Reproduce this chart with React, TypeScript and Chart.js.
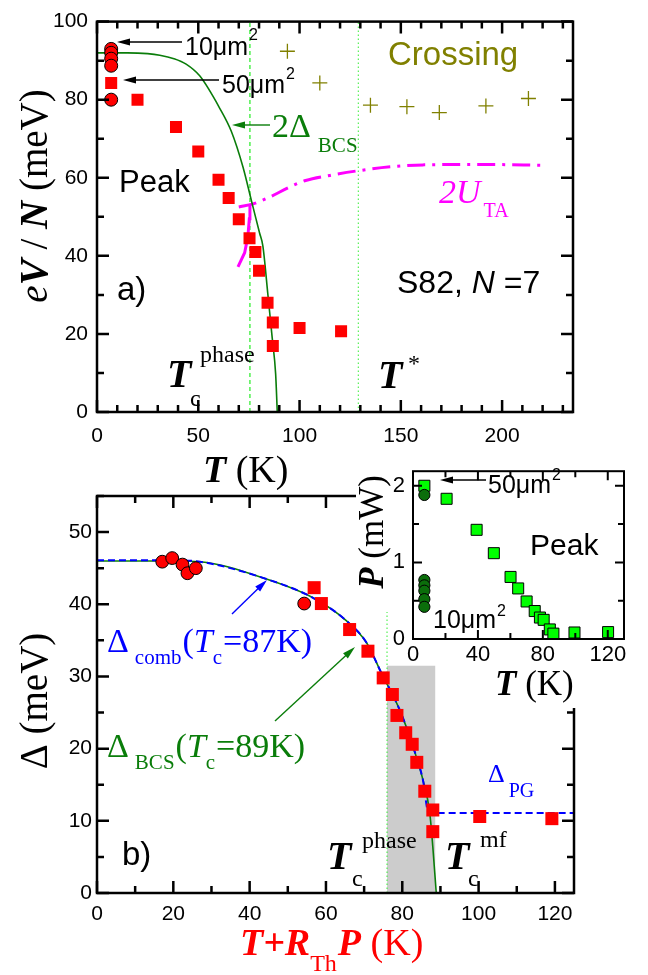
import React, { useEffect, useRef } from "react";
import { Chart, registerables } from "chart.js";
Chart.register(...registerables);

const SANS = '"Liberation Sans", Arial, Helvetica, sans-serif';
const SERIF = '"Liberation Serif", "Times New Roman", Times, serif';

// ---------- Panel a ----------
const aXTicks = [0, 50, 100, 150, 200];
const aYTicks = [0, 20, 40, 60, 80, 100];
const aCircleT = [7, 7, 7, 7, 7];
const aCircleV = [93, 92, 90.5, 88.7, 80];
const aSquareT = [7, 20, 39, 50, 60, 65, 70, 75.3, 78.2, 80, 84.2, 86.8, 86.8, 100, 120.5];
const aSquareV = [84.3, 80, 73, 66.7, 59.5, 54.8, 49.4, 44.5, 41, 36.2, 28, 22.9, 16.9, 21.5, 20.7];
const aCrossT = [94, 110, 135, 153, 169, 192, 213];
const aCrossV = [92.4, 84.3, 78.6, 78.2, 76.7, 78.4, 80.3];
const aBcsT = [0, 15, 25, 31, 38, 44, 50.7, 60.6, 66.3, 72.1, 76.2, 80.3, 81.9, 84.4, 86.5, 88.2, 89];
const aBcsV = [92, 92, 91.8, 91.4, 90.5, 89.1, 86.1, 77.8, 71.9, 62.7, 54.2, 45.8, 42.5, 29.9, 19, 9.7, 0];
const aUtaT = [70, 77, 85, 95, 103, 115, 129, 145, 161, 190, 221];
const aUtaV = [52.5, 53.3, 55, 57.6, 59.3, 60.6, 61.8, 62.8, 63.3, 63.4, 63.2];
const aUtaLowT = [69.6, 72.9, 74.5, 75.2, 75.5];
const aUtaLowV = [37.2, 40.8, 45, 49.5, 53];
const aPhaseT = [75.5, 75.5];
const aStarT = [129, 129];
const aVertV = [0, 100];

// ---------- Panel b ----------
const bXTicks = [0, 20, 40, 60, 80, 100, 120];
const bYTicks = [0, 10, 20, 30, 40, 50];
const bCircleX = [17.1, 19.7, 22.4, 23.7, 25.9, 54.3];
const bCircleY = [45.9, 46.4, 45.5, 44.3, 45, 40.1];
const bSquareX = [56.9, 58.8, 66.2, 71, 75, 77.4, 78.6, 80.9, 82.6, 83.8, 85.9, 88, 88, 100.3, 119.2];
const bSquareY = [42.3, 40.1, 36.5, 33.5, 29.8, 27.5, 24.6, 22.2, 20.6, 18.1, 14.1, 11.5, 8.5, 10.6, 10.3];
const bBcsX = [0, 20, 27, 44.4, 56.6, 65.4, 70.6, 74.5, 79.3, 82.8, 85.4, 87.2, 88, 88.9];
const bBcsY = [46, 46, 45.9, 43.5, 40.9, 37.7, 34.7, 30.5, 25.4, 20.3, 15.7, 11.1, 6.4, 0];
const bCombX = [0, 20, 27, 44.4, 56.6, 65.4, 70.6, 74.5, 79.3, 82.8, 85.4, 86.9, 125];
const bCombY = [46.1, 46.1, 45.9, 43.5, 40.9, 37.7, 34.7, 30.5, 25.4, 20.3, 15.7, 11.1, 11.1];
const bShadeX = [76, 88.7];
const bShadeTop = [31.5, 31.5];
const bPhaseX = [76, 76];
const bVertY = [0, 55];

// ---------- Inset ----------
const iXTicks = [0, 40, 80, 120];
const iYTicks = [0, 1, 2];
const iCircleT = [7, 7, 7, 7, 7, 7];
const iCircleP = [1.88, 0.77, 0.7, 0.63, 0.52, 0.42];
const iSquareT = [7, 20.7, 39.2, 49.8, 60.1, 64.8, 70, 75, 78.2, 80.5, 84.3, 86.5, 99.5, 120.2];
const iSquareP = [2.0, 1.83, 1.425, 1.12, 0.81, 0.66, 0.49, 0.365, 0.28, 0.25, 0.125, 0.07, 0.085, 0.09];

const pts = (xs: number[], ys: number[]) => xs.map((x, i) => ({ x, y: ys[i] }));

type Seg = { t: string; f: string; dy?: number; dx?: number; c?: string };
const sans = (s: number) => `${s}px ${SANS}`;
const sansI = (s: number) => `italic ${s}px ${SANS}`;
const ser = (s: number) => `${s}px ${SERIF}`;
const serI = (s: number) => `italic ${s}px ${SERIF}`;
const serBI = (s: number) => `italic bold ${s}px ${SERIF}`;

function rich(ctx: CanvasRenderingContext2D, x: number, y: number, segs: Seg[], color: string) {
  let cx = x;
  ctx.textBaseline = "alphabetic";
  ctx.textAlign = "left";
  for (const s of segs) {
    ctx.font = s.f;
    ctx.fillStyle = s.c ?? color;
    cx += s.dx ?? 0;
    ctx.fillText(s.t, cx, y + (s.dy ?? 0));
    cx += ctx.measureText(s.t).width;
  }
}
function richWidth(ctx: CanvasRenderingContext2D, segs: Seg[]) {
  let w = 0;
  for (const s of segs) {
    ctx.font = s.f;
    w += (s.dx ?? 0) + ctx.measureText(s.t).width;
  }
  return w;
}
function richRot(ctx: CanvasRenderingContext2D, bx: number, cy: number, segs: Seg[], color: string) {
  ctx.save();
  ctx.translate(bx, cy);
  ctx.rotate(-Math.PI / 2);
  const w = richWidth(ctx, segs);
  rich(ctx, -w / 2, 0, segs, color);
  ctx.restore();
}
function arrow(ctx: CanvasRenderingContext2D, x1: number, y1: number, x2: number, y2: number, color: string, lw = 1.4, hl = 13, hw = 3.5) {
  const a = Math.atan2(y2 - y1, x2 - x1);
  const c = Math.cos(a), s = Math.sin(a);
  ctx.save();
  ctx.strokeStyle = color;
  ctx.fillStyle = color;
  ctx.lineWidth = lw;
  ctx.beginPath();
  ctx.moveTo(x1, y1);
  ctx.lineTo(x2 - c * hl * 0.7, y2 - s * hl * 0.7);
  ctx.stroke();
  ctx.beginPath();
  ctx.moveTo(x2, y2);
  ctx.lineTo(x2 - c * hl - s * hw, y2 - s * hl + c * hw);
  ctx.lineTo(x2 - c * hl + s * hw, y2 - s * hl - c * hw);
  ctx.closePath();
  ctx.fill();
  ctx.restore();
}

function frame(chart: any, xMaj: number, xMin: number, yMaj: number, yMin: number, lMaj: number, lMin: number, lw: number) {
  const { ctx, chartArea: a } = chart;
  const sx = chart.scales.x, sy = chart.scales.y;
  ctx.save();
  ctx.strokeStyle = "#000";
  ctx.lineWidth = lw;
  ctx.beginPath();
  const isMaj = (v: number, m: number) => Math.abs(v / m - Math.round(v / m)) < 1e-6;
  for (let i = Math.ceil(sx.min / xMin - 1e-9); i <= Math.floor(sx.max / xMin + 1e-9); i++) {
    const v = i * xMin;
    const p = sx.getPixelForValue(v);
    const L = isMaj(v, xMaj) ? lMaj : lMin;
    ctx.moveTo(p, a.bottom); ctx.lineTo(p, a.bottom - L);
    ctx.moveTo(p, a.top); ctx.lineTo(p, a.top + L);
  }
  for (let i = Math.ceil(sy.min / yMin - 1e-9); i <= Math.floor(sy.max / yMin + 1e-9); i++) {
    const v = i * yMin;
    const p = sy.getPixelForValue(v);
    const L = isMaj(v, yMaj) ? lMaj : lMin;
    ctx.moveTo(a.left, p); ctx.lineTo(a.left + L, p);
    ctx.moveTo(a.right, p); ctx.lineTo(a.right - L, p);
  }
  ctx.stroke();
  ctx.strokeRect(a.left, a.top, a.right - a.left, a.bottom - a.top);
  ctx.restore();
}

function axes(xr: [number, number], xt: number[], yr: [number, number], yt: number[], yW: number, xH: number, fs: number, xPad: number, yPad: number) {
  return {
    x: {
      type: "linear", min: xr[0], max: xr[1],
      afterBuildTicks: (s: any) => { s.ticks = xt.map((v) => ({ value: v })); },
      afterFit: (s: any) => { s.height = xH; },
      grid: { display: false, drawTicks: false }, border: { display: false },
      ticks: { color: "#000", font: { family: SANS, size: fs }, padding: xPad, maxRotation: 0, autoSkip: false },
    },
    y: {
      type: "linear", min: yr[0], max: yr[1],
      afterBuildTicks: (s: any) => { s.ticks = yt.map((v) => ({ value: v })); },
      afterFit: (s: any) => { s.width = yW; },
      grid: { display: false, drawTicks: false }, border: { display: false },
      ticks: { color: "#000", font: { family: SANS, size: fs }, padding: yPad, autoSkip: false },
    },
  };
}

const baseOpts = (padding: any) => ({
  responsive: false,
  animation: false,
  events: [],
  layout: { padding },
  plugins: { legend: { display: false }, tooltip: { enabled: false } },
});

const lineDs = (data: any, color: string, width: number, dash: number[] = [], order = 4, extra: any = {}) => ({
  data, showLine: true, borderColor: color, borderWidth: width, borderDash: dash, pointRadius: 0, fill: false, order, ...extra,
});

function makeA(ox: number, oy: number) {
  return {
    type: "scatter",
    data: {
      datasets: [
        lineDs(pts(aPhaseT, aVertV), "#33ee33", 1.3, [4, 3], 6),
        lineDs(pts(aStarT, aVertV), "#33ee33", 1, [1.5, 2.5], 6),
        lineDs(pts(aBcsT, aBcsV), "#0a7d0a", 1.6, [], 4, { cubicInterpolationMode: "monotone" }),
        lineDs(pts(aUtaT, aUtaV), "#ff00ff", 3, [18, 7, 3, 7], 4, { cubicInterpolationMode: "monotone" }),
        lineDs(pts(aUtaLowT, aUtaLowV), "#ff00ff", 3, [], 4),
        { data: pts(aCrossT, aCrossV), pointStyle: "cross", pointRadius: 7.5, borderColor: "#808000", borderWidth: 1.3, order: 2 },
        { data: pts(aSquareT, aSquareV), pointStyle: "rect", pointRadius: 8.5, backgroundColor: "#ff0000", borderWidth: 0, order: 1 },
        { data: pts(aCircleT, aCircleV), pointStyle: "circle", pointRadius: 6.5, backgroundColor: "#ff0000", borderColor: "#000", borderWidth: 1, order: 0 },
      ],
    },
    options: {
      ...baseOpts({ top: 15, right: 75, left: 0, bottom: 0 }),
      scales: axes([0, 235], aXTicks, [0, 100], aYTicks, 97, 78, 21, 12, 9),
    },
    plugins: [{
      id: "deco",
      afterDraw(chart: any) {
        frame(chart, 50, 10, 20, 10, 12, 7, 2.5);
        const ctx = chart.ctx as CanvasRenderingContext2D;
        ctx.save();
        ctx.translate(-ox, -oy);
        rich(ctx, 185, 55, [{ t: "10μm", f: sans(25) }, { t: "2", f: sans(16), dy: -15, dx: 1 }], "#000");
        arrow(ctx, 182, 42, 117, 42, "#000");
        rich(ctx, 222, 93, [{ t: "50μm", f: sans(25) }, { t: "2", f: sans(16), dy: -14, dx: 1 }], "#000");
        arrow(ctx, 219, 80, 123, 80, "#000");
        rich(ctx, 119, 192, [{ t: "Peak", f: sans(31) }], "#000");
        rich(ctx, 388, 65, [{ t: "Crossing", f: sans(33) }], "#808000");
        rich(ctx, 272, 137, [{ t: "2Δ", f: ser(34) }, { t: "BCS", f: ser(21), dy: 15, dx: 7 }], "#0a7d0a");
        arrow(ctx, 270, 125, 232, 125, "#0a7d0a");
        rich(ctx, 439, 203, [{ t: "2", f: serI(34) }, { t: "U", f: serI(34) }, { t: "TA", f: ser(20), dy: 14, dx: 3 }], "#ff00ff");
        rich(ctx, 117, 300, [{ t: "a)", f: sans(33) }], "#000");
        rich(ctx, 397, 293, [{ t: "S82, ", f: sans(32) }, { t: "N", f: sansI(32) }, { t: " =7", f: sans(32) }], "#000");
        rich(ctx, 167, 387, [{ t: "T", f: serBI(40) }], "#000");
        rich(ctx, 200, 362, [{ t: "phase", f: ser(24) }], "#000");
        rich(ctx, 190, 406, [{ t: "c", f: ser(24) }], "#000");
        rich(ctx, 378, 388, [{ t: "T", f: serBI(40) }], "#000");
        rich(ctx, 408, 371, [{ t: "*", f: ser(24) }], "#000");
        rich(ctx, 203, 482, [{ t: "T", f: serBI(38) }, { t: " (K)", f: ser(38) }], "#000");
        richRot(ctx, 47, 196, [
          { t: "e", f: serI(39) }, { t: "V", f: serBI(39) }, { t: " / ", f: ser(39) },
          { t: "N", f: serBI(39) }, { t: " (meV)", f: ser(39) },
        ], "#000");
        ctx.restore();
      },
    }],
  };
}

function makeB(ox: number, oy: number) {
  return {
    type: "scatter",
    data: {
      datasets: [
        lineDs(pts(bShadeX, bShadeTop), "rgba(0,0,0,0)", 0, [], 9, { fill: "origin", backgroundColor: "#cccccc" }),
        lineDs(pts(bPhaseX, bVertY), "#33ee33", 1, [1.5, 2.5], 6),
        lineDs(pts(bBcsX, bBcsY), "#0a7d0a", 1.6, [], 4, { cubicInterpolationMode: "monotone" }),
        lineDs(pts(bCombX, bCombY), "#0000ff", 2, [7, 4], 3, { cubicInterpolationMode: "monotone" }),
        { data: pts(bSquareX, bSquareY), pointStyle: "rect", pointRadius: 9.2, backgroundColor: "#ff0000", borderWidth: 0, order: 1 },
        { data: pts(bCircleX, bCircleY), pointStyle: "circle", pointRadius: 6.4, backgroundColor: "#ff0000", borderColor: "#000", borderWidth: 1, order: 0 },
      ],
    },
    options: {
      ...baseOpts({ top: 26, right: 74, left: 0, bottom: 0 }),
      scales: axes([0, 125], bXTicks, [0, 55], bYTicks, 97, 82, 21, 9, 5),
    },
    plugins: [{
      id: "deco",
      afterDraw(chart: any) {
        frame(chart, 20, 10, 10, 5, 12, 7, 2.5);
        const ctx = chart.ctx as CanvasRenderingContext2D;
        ctx.save();
        ctx.translate(-ox, -oy);
        const blue = "#0000ff", green = "#0a7d0a", red = "#ff0000";
        rich(ctx, 107, 652, [
          { t: "Δ", f: ser(34) }, { t: "comb", f: ser(21), dy: 12, dx: 6 }, { t: "(", f: ser(34), dx: 1 },
          { t: "T", f: serI(34) }, { t: "c", f: ser(21), dy: 12 }, { t: "=87K)", f: ser(34), dx: 1 },
        ], blue);
        rich(ctx, 107, 757, [
          { t: "Δ", f: ser(34) }, { t: "BCS", f: ser(21), dy: 12, dx: 6 }, { t: "(", f: ser(34), dx: 1 },
          { t: "T", f: serI(34) }, { t: "c", f: ser(21), dy: 12 }, { t: "=89K)", f: ser(34), dx: 1 },
        ], green);
        arrow(ctx, 232, 614, 267, 580, blue);
        arrow(ctx, 275, 721, 355, 647, green);
        rich(ctx, 488, 782, [{ t: "Δ", f: ser(26) }, { t: "PG", f: ser(20), dy: 15, dx: 4 }], blue);
        rich(ctx, 122, 865, [{ t: "b)", f: sans(33) }], "#000");
        rich(ctx, 327, 869, [{ t: "T", f: serBI(40) }], "#000");
        rich(ctx, 362, 848, [{ t: "phase", f: ser(24) }], "#000");
        rich(ctx, 352, 886, [{ t: "c", f: ser(24) }], "#000");
        rich(ctx, 445, 869, [{ t: "T", f: serBI(40) }], "#000");
        rich(ctx, 480, 847, [{ t: "mf", f: ser(24) }], "#000");
        rich(ctx, 468, 886, [{ t: "c", f: ser(24) }], "#000");
        rich(ctx, 240, 955, [
          { t: "T+R", f: serBI(38) }, { t: "Th", f: ser(24), dy: 16 }, { t: "P", f: serBI(38), dx: 1 }, { t: " (K)", f: ser(38) },
        ], red);
        richRot(ctx, 47, 701, [{ t: "Δ", f: ser(39) }, { t: " (meV)", f: ser(39) }], "#000");
        ctx.restore();
      },
    }],
  };
}

function makeI(ox: number, oy: number) {
  return {
    type: "scatter",
    data: {
      datasets: [
        { data: pts(iSquareT, iSquareP), pointStyle: "rect", pointRadius: 7.8, backgroundColor: "#00ff00", borderColor: "#000", borderWidth: 1, order: 1 },
        { data: pts(iCircleT, iCircleP), pointStyle: "circle", pointRadius: 5.6, backgroundColor: "#0b6e0b", borderColor: "#000", borderWidth: 1, order: 0 },
      ],
    },
    options: {
      ...baseOpts({ top: 14, right: 24, left: 0, bottom: 0 }),
      scales: axes([0, 130], iXTicks, [0, 2.19], iYTicks, 63, 73, 22, 3, 8),
    },
    plugins: [{
      id: "bg",
      beforeDraw(chart: any) {
        const ctx = chart.ctx as CanvasRenderingContext2D;
        ctx.save();
        ctx.translate(-ox, -oy);
        ctx.fillStyle = "#ffffff";
        ctx.fillRect(356, 452, 292, 160);
        ctx.fillRect(390, 612, 258, 50);
        ctx.fillRect(440, 662, 208, 46);
        ctx.restore();
      },
      afterDraw(chart: any) {
        frame(chart, 40, 20, 1, 0.5, 9, 6, 2);
        const ctx = chart.ctx as CanvasRenderingContext2D;
        ctx.save();
        ctx.translate(-ox, -oy);
        rich(ctx, 488, 493, [{ t: "50μm", f: sans(25) }, { t: "2", f: sans(16), dy: -13, dx: 1 }], "#000");
        arrow(ctx, 486, 480, 440, 480, "#000");
        rich(ctx, 530, 555, [{ t: "Peak", f: sans(30) }], "#000");
        rich(ctx, 433, 628, [{ t: "10μm", f: sans(25) }, { t: "2", f: sans(16), dy: -12, dx: 1 }], "#000");
        richRot(ctx, 383, 532, [{ t: "P", f: serBI(35) }, { t: " (mW)", f: ser(35) }], "#000");
        rich(ctx, 495, 695, [{ t: "T", f: serBI(35) }, { t: " (K)", f: ser(35) }], "#000");
        ctx.restore();
      },
    }],
  };
}

function ChartCanvas({ left, top, width, height, make }: { left: number; top: number; width: number; height: number; make: (ox: number, oy: number) => any }) {
  const ref = useRef<HTMLCanvasElement>(null);
  useEffect(() => {
    const c = new Chart(ref.current as HTMLCanvasElement, make(left, top));
    return () => c.destroy();
  }, []);
  return (
    <canvas
      ref={ref}
      width={width}
      height={height}
      style={{ position: "absolute", left, top, width, height, display: "block" }}
    />
  );
}

export default function App() {
  return (
    <div style={{ position: "absolute", left: 0, top: 0, width: 648, height: 975, background: "#fff", overflow: "hidden" }}>
      <ChartCanvas left={0} top={0} width={648} height={490} make={makeA} />
      <ChartCanvas left={0} top={470} width={648} height={505} make={makeB} />
      <ChartCanvas left={350} top={450} width={298} height={262} make={makeI} />
    </div>
  );
}
